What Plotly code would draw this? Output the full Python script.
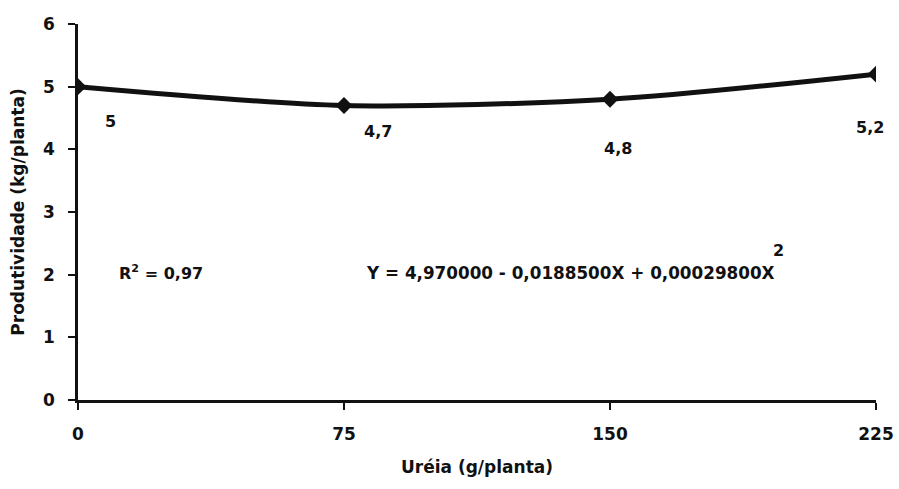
import plotly.graph_objects as go

ureia = [0, 75, 150, 225]
produtividade = [5.0, 4.7, 4.8, 5.2]
point_labels = ["5", "4,7", "4,8", "5,2"]
x_ticks = [0, 75, 150, 225]
y_ticks = [0, 1, 2, 3, 4, 5, 6]

FONT = "DejaVu Sans, Arial, sans-serif"
BLACK = "#111111"

fig = go.Figure()
fig.add_trace(go.Scatter(
    x=ureia, y=produtividade, mode="lines+markers",
    line=dict(color=BLACK, width=5, shape="spline", smoothing=0.8),
    marker=dict(symbol="diamond", size=13, color=BLACK),
    showlegend=False, hoverinfo="x+y",
))

# data labels below points
offsets = [(32, -35), (34, -26), (8, -49), (-6, -53)]
for xv, yv, lab, (dx, dy) in zip(ureia, produtividade, point_labels, offsets):
    fig.add_annotation(x=xv, y=yv, text="<b>%s</b>" % lab, showarrow=False,
                       xshift=dx, yshift=dy,
                       font=dict(family=FONT, size=16, color=BLACK))

fig.add_annotation(x=11, y=2, text="<b>R<sup>2</sup> = 0,97</b>", showarrow=False,
                   xanchor="left", yanchor="middle", yshift=2,
                   font=dict(family=FONT, size=16, color=BLACK))
fig.add_annotation(x=80.5, y=2, text="<b>Y = 4,970000 - 0,0188500X + 0,00029800X</b>",
                   showarrow=False, xanchor="left", yanchor="middle", yshift=2,
                   font=dict(family=FONT, size=16.8, color=BLACK))
fig.add_annotation(x=197.5, y=2, text="<b>2</b>", showarrow=False,
                   xanchor="center", yanchor="middle", yshift=24,
                   font=dict(family=FONT, size=16, color=BLACK))

fig.update_layout(
    width=899, height=489,
    margin=dict(l=78, r=23, t=24, b=89),
    paper_bgcolor="white", plot_bgcolor="white",
    font=dict(family=FONT, size=16, color=BLACK),
    xaxis=dict(
        range=[0, 225], tickvals=x_ticks,
        ticktext=["<b>%d</b>" % v for v in x_ticks],
        showline=True, linecolor=BLACK, linewidth=2.5,
        ticks="outside", ticklen=7, tickwidth=2, tickcolor=BLACK,
        ticklabelstandoff=10, automargin=False,
        showgrid=False, zeroline=False,
        tickfont=dict(family=FONT, size=17, color=BLACK),
        title=dict(text="<b>Uréia (g/planta)</b>", standoff=18,
                   font=dict(family=FONT, size=17, color=BLACK)),
    ),
    yaxis=dict(
        range=[0, 6], tickvals=y_ticks,
        ticktext=["<b>%d</b>" % v for v in y_ticks],
        showline=True, linecolor=BLACK, linewidth=2.5,
        ticks="outside", ticklen=7, tickwidth=2, tickcolor=BLACK,
        ticklabelstandoff=10, automargin=False,
        showgrid=False, zeroline=False,
        tickfont=dict(family=FONT, size=17, color=BLACK),
        title=dict(text="<b>Produtividade (kg/planta)</b>", standoff=15,
                   font=dict(family=FONT, size=17, color=BLACK)),
    ),
)

fig.write_html("out.html")
